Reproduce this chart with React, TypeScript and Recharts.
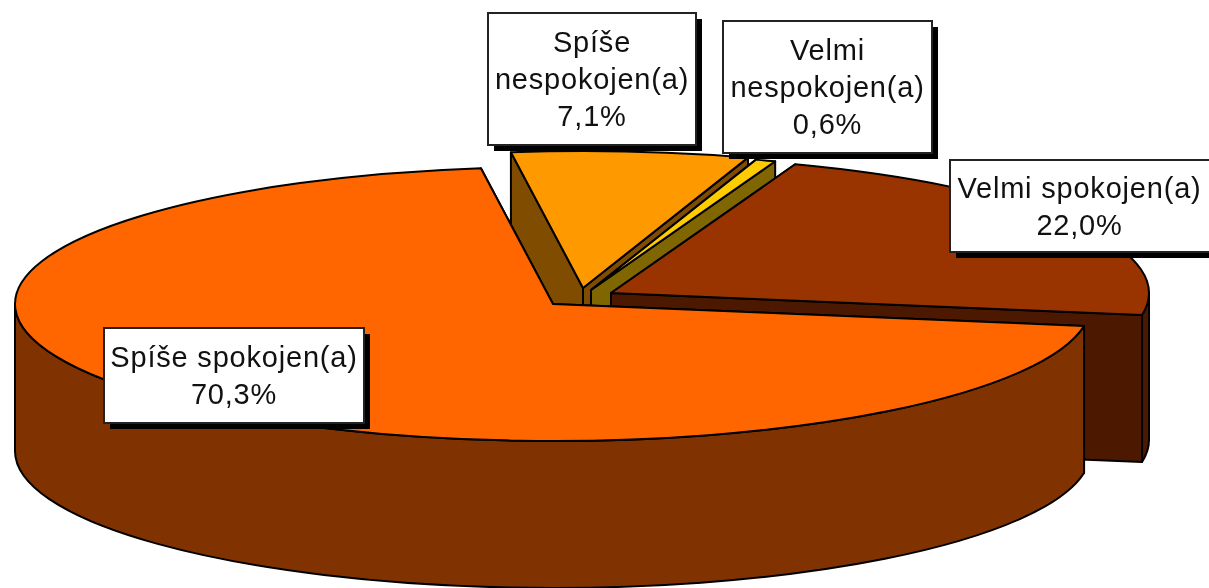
import { PieChart, Pie } from 'recharts'

// clockwise from the top left of the pie, back slices first so the big one paints last
const categories = ['Spíše nespokojen(a)', 'Velmi nespokojen(a)', 'Velmi spokojen(a)', 'Spíše spokojen(a)']
const values = [7.1, 0.6, 22.0, 70.3]

const labelLines = [['Spíše', 'nespokojen(a)'], ['Velmi', 'nespokojen(a)'], ['Velmi spokojen(a)'], ['Spíše spokojen(a)']]
const topColors = ['#FF9900', '#FFCC00', '#993300', '#FF6600']
const wallColors = ['#804C00', '#806600', '#4C1900', '#803300']

// how far each slice is pulled out of the pie
const explodeX = [30, 38, 58, 0]
const explodeY = [-16, -14, -11, 0]

const labelBoxes = [
  { x: 488, y: 13, w: 208, h: 132 },
  { x: 723, y: 21, w: 209, h: 132 },
  { x: 950, y: 160, w: 262, h: 92 },
  { x: 104, y: 328, w: 260, h: 95 },
]

const RY_RATIO = 0.2546
const DEPTH = 147
const FONT = '"Liberation Sans", Arial, sans-serif'

function SliceShape(props: any) {
  const { cx, cy, outerRadius, startAngle, endAngle, index } = props
  const ox = cx + explodeX[index]
  const oy = cy + explodeY[index]
  const rx = outerRadius
  const ry = outerRadius * RY_RATIO
  const pt = (a: number) => {
    const r = (a * Math.PI) / 180
    return [ox + rx * Math.cos(r), oy - ry * Math.sin(r)]
  }
  const hi = Math.max(startAngle, endAngle)
  const lo = Math.min(startAngle, endAngle)
  const [hx, hy] = pt(hi)
  const [lx, ly] = pt(lo)
  const large = hi - lo > 180 ? 1 : 0

  const face = (x: number, y: number) =>
    `M${ox},${oy} L${x},${y} L${x},${y + DEPTH} L${ox},${oy + DEPTH} Z`

  // outer wall only exists on the front half of the ellipse
  const wallHi = Math.min(hi, 0)
  const wallLo = Math.max(lo, -180)
  let wall = ''
  if (wallHi > wallLo) {
    const [ax, ay] = pt(wallHi)
    const [bx, by] = pt(wallLo)
    wall = `M${ax},${ay} A${rx},${ry} 0 0 1 ${bx},${by} L${bx},${by + DEPTH} A${rx},${ry} 0 0 0 ${ax},${ay + DEPTH} Z`
  }

  const common = { stroke: '#000', strokeWidth: 2, strokeLinejoin: 'round' as const }
  return (
    <g>
      <path d={face(hx, hy)} fill={wallColors[index]} {...common} />
      <path d={face(lx, ly)} fill={wallColors[index]} {...common} />
      {wall && <path d={wall} fill={wallColors[index]} {...common} />}
      <path
        d={`M${ox},${oy} L${hx},${hy} A${rx},${ry} 0 ${large} 1 ${lx},${ly} Z`}
        fill={topColors[index]}
        {...common}
      />
    </g>
  )
}

function BoxLabel(props: any) {
  const { index, value } = props
  const box = labelBoxes[index]
  const lines = [...labelLines[index], `${value.toFixed(1).replace('.', ',')}%`]
  const lineH = 37
  const firstY = box.y + box.h / 2 - ((lines.length - 1) * lineH) / 2 + 10
  // the last box runs off the page, so its text centres on the visible part
  const textX = box.x + Math.min(box.w, 1209 - box.x) / 2
  return (
    <g>
      <rect x={box.x + 6} y={box.y + 6} width={box.w} height={box.h} fill="#000" />
      <rect x={box.x} y={box.y} width={box.w} height={box.h} fill="#fff" stroke="#222" strokeWidth={2} />
      {lines.map((line, i) => (
        <text
          key={i}
          x={textX}
          y={firstY + i * lineH}
          textAnchor="middle"
          fontFamily={FONT}
          fontSize={29}
          letterSpacing={0.8}
          fill="#111"
        >
          {line}
        </text>
      ))}
    </g>
  )
}

export default function App() {
  const data = categories.map((name, i) => ({ name, value: values[i] }))
  return (
    <div style={{ position: 'absolute', left: 0, top: 0, width: 1209, height: 588, overflow: 'hidden', background: '#fff', filter: 'blur(0.6px)' }}>
      <PieChart width={1209} height={588} margin={{ top: 0, right: 0, bottom: 0, left: 0 }}>
        <Pie
          data={data}
          dataKey="value"
          nameKey="name"
          cx={553}
          cy={304}
          innerRadius={0}
          outerRadius={538}
          startAngle={97.7}
          endAngle={-262.3}
          paddingAngle={0}
          isAnimationActive={false}
          shape={SliceShape}
          label={BoxLabel}
          labelLine={false}
          rootTabIndex={-1}
        />
      </PieChart>
    </div>
  )
}
